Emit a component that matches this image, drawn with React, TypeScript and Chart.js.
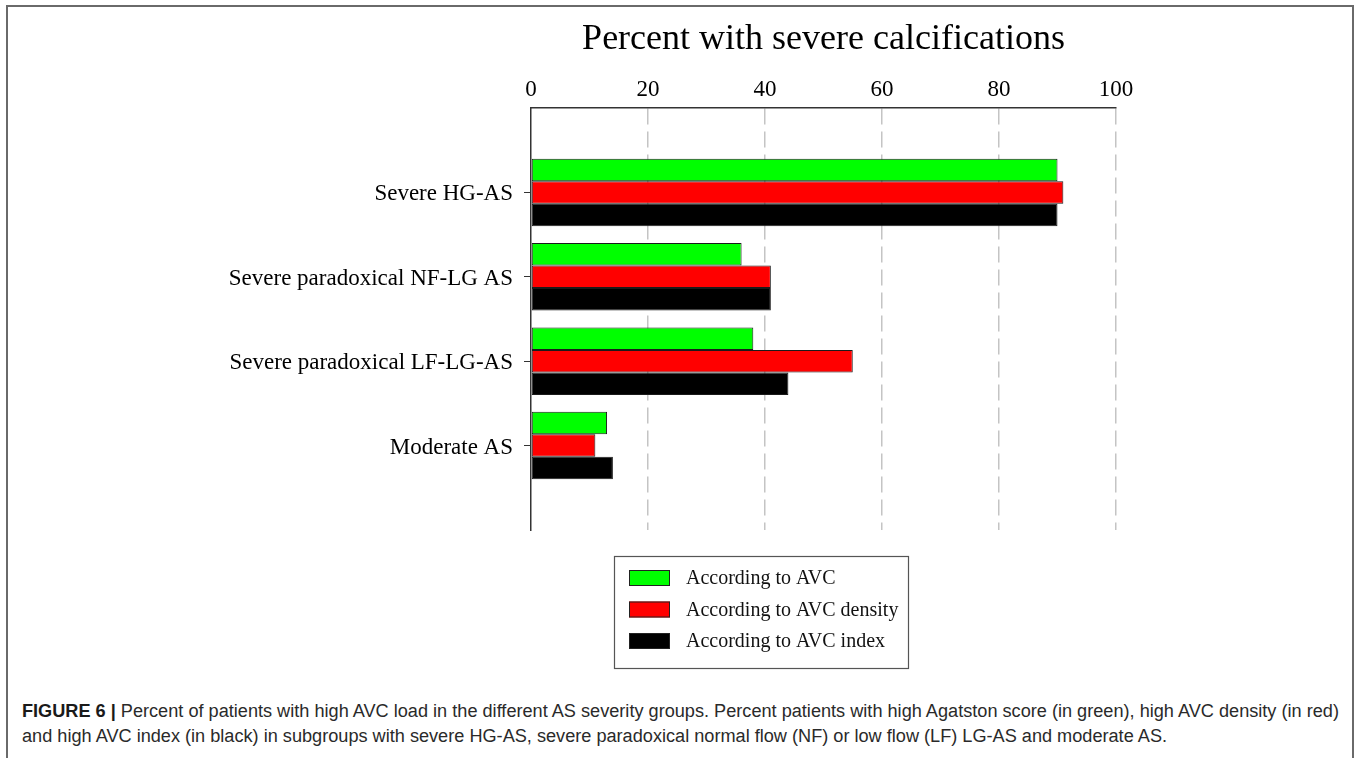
import React, { useEffect, useRef } from "react";
import { Chart, registerables } from "chart.js";

Chart.register(...registerables);

const chartTitle = "Percent with severe calcifications";
const categories = [
  "Severe HG-AS",
  "Severe paradoxical NF-LG AS",
  "Severe paradoxical LF-LG-AS",
  "Moderate AS",
];
const seriesLabels = [
  "According to AVC",
  "According to AVC density",
  "According to AVC index",
];
const avcValues = [90, 36, 38, 13];
const avcDensityValues = [91, 41, 55, 11];
const avcIndexValues = [90, 41, 44, 14];
const seriesColors = ["#00ff00", "#ff0000", "#000000"];
const xMin = 0;
const xMax = 100;
const xStep = 20;

const SERIF = "'Liberation Serif', 'Times New Roman', serif";

const boxLegendPlugin = {
  id: "boxLegend",
  afterDraw(chart: any) {
    const ctx = chart.ctx;
    const left = 614;
    const top = 556;
    const w = 294;
    const h = 112;
    ctx.save();
    ctx.strokeStyle = "#555";
    ctx.lineWidth = 1.2;
    ctx.strokeRect(left + 0.5, top + 0.5, w, h);
    ctx.font = `20px ${SERIF}`;
    ctx.textBaseline = "middle";
    ctx.textAlign = "left";
    chart.data.datasets.forEach((ds: any, i: number) => {
      const cy = 578 + i * 31.5;
      ctx.fillStyle = ds.backgroundColor;
      ctx.fillRect(629, cy - 8, 41, 16);
      ctx.strokeStyle = "#222";
      ctx.lineWidth = 1;
      ctx.strokeRect(629.5, cy - 7.5, 40, 15);
      ctx.fillStyle = "#111";
      ctx.fillText(ds.label, 686, cy + 1);
    });
    ctx.restore();
  },
};

export default function App() {
  const canvasRef = useRef<HTMLCanvasElement | null>(null);

  useEffect(() => {
    if (!canvasRef.current) return;
    const labels = ["", ...categories, ""];
    const pad = (arr: number[]) => [null, ...arr, null];
    const allSeries = [avcValues, avcDensityValues, avcIndexValues];
    const chart = new Chart(canvasRef.current, {
      type: "bar",
      data: {
        labels,
        datasets: allSeries.map((vals, i) => ({
          label: seriesLabels[i],
          data: pad(vals) as any,
          backgroundColor: seriesColors[i],
          borderColor: "#1a1a1a",
          borderWidth: 1,
          borderSkipped: false,
          categoryPercentage: 0.8,
          barPercentage: 1.0,
        })),
      },
      options: {
        indexAxis: "y",
        animation: false,
        responsive: true,
        maintainAspectRatio: false,
        layout: { padding: { left: 0, right: 244, top: 8, bottom: 160 } },
        plugins: {
          legend: { display: false },
          tooltip: { enabled: false },
          title: {
            display: true,
            fullSize: false,
            text: chartTitle,
            color: "#000",
            font: { family: SERIF, size: 36, weight: "normal" },
            padding: { top: 10, bottom: 0 },
          },
        },
        scales: {
          x: {
            type: "linear",
            position: "top",
            min: xMin,
            max: xMax,
            ticks: {
              stepSize: xStep,
              color: "#000",
              padding: 4,
              font: { family: SERIF, size: 23 },
            },
            grid: {
              drawTicks: false,
              color: (c: any) => (c.index === 0 ? "rgba(0,0,0,0)" : "#c4c4c4"),
              lineWidth: 1.5,
            },
            border: { display: true, color: "#333", width: 1.5, dash: [16, 7] } as any,
            afterFit: (scale: any) => {
              scale.height = 46.8;
            },
          } as any,
          y: {
            type: "category",
            offset: false,
            ticks: {
              color: "#000",
              padding: 11,
              labelOffset: 2,
              font: { family: SERIF, size: 23 },
              autoSkip: false,
            },
            grid: {
              offset: false,
              drawOnChartArea: false,
              drawTicks: true,
              tickLength: 7,
              tickColor: (c: any) =>
                c.tick && c.tick.label ? "#333" : "rgba(0,0,0,0)",
            },
            border: { display: true, color: "#333", width: 1.5 },
            afterFit: (scale: any) => {
              scale.width = 531;
            },
          } as any,
        },
      },
      plugins: [boxLegendPlugin],
    });
    return () => chart.destroy();
  }, []);

  return (
    <div
      style={{
        position: "fixed",
        left: 0,
        top: 0,
        width: 1360,
        height: 758,
        overflow: "hidden",
        background: "#fff",
      }}
    >
      <div
        style={{
          position: "absolute",
          left: 6,
          top: 5,
          width: 1348,
          height: 780,
          border: "2px solid #6a6a6a",
          boxSizing: "border-box",
        }}
      />
      <div style={{ position: "absolute", left: 0, top: 0, width: 1360, height: 690 }}>
        <canvas ref={canvasRef} />
      </div>
      <div
        style={{
          position: "absolute",
          left: 22,
          top: 699,
          whiteSpace: "nowrap",
          fontFamily: "'Liberation Sans', Arial, sans-serif",
          fontSize: 18.15,
          lineHeight: "25px",
          color: "#2a2a2a",
        }}
      >
        <span style={{ fontWeight: "bold", color: "#1a1a1a" }}>FIGURE 6 |</span> Percent of
        patients with high AVC load in the different AS severity groups. Percent patients with
        high Agatston score (in green), high AVC density (in red)
        <br />
        and high AVC index (in black) in subgroups with severe HG-AS, severe paradoxical normal
        flow (NF) or low flow (LF) LG-AS and moderate AS.
      </div>
    </div>
  );
}
